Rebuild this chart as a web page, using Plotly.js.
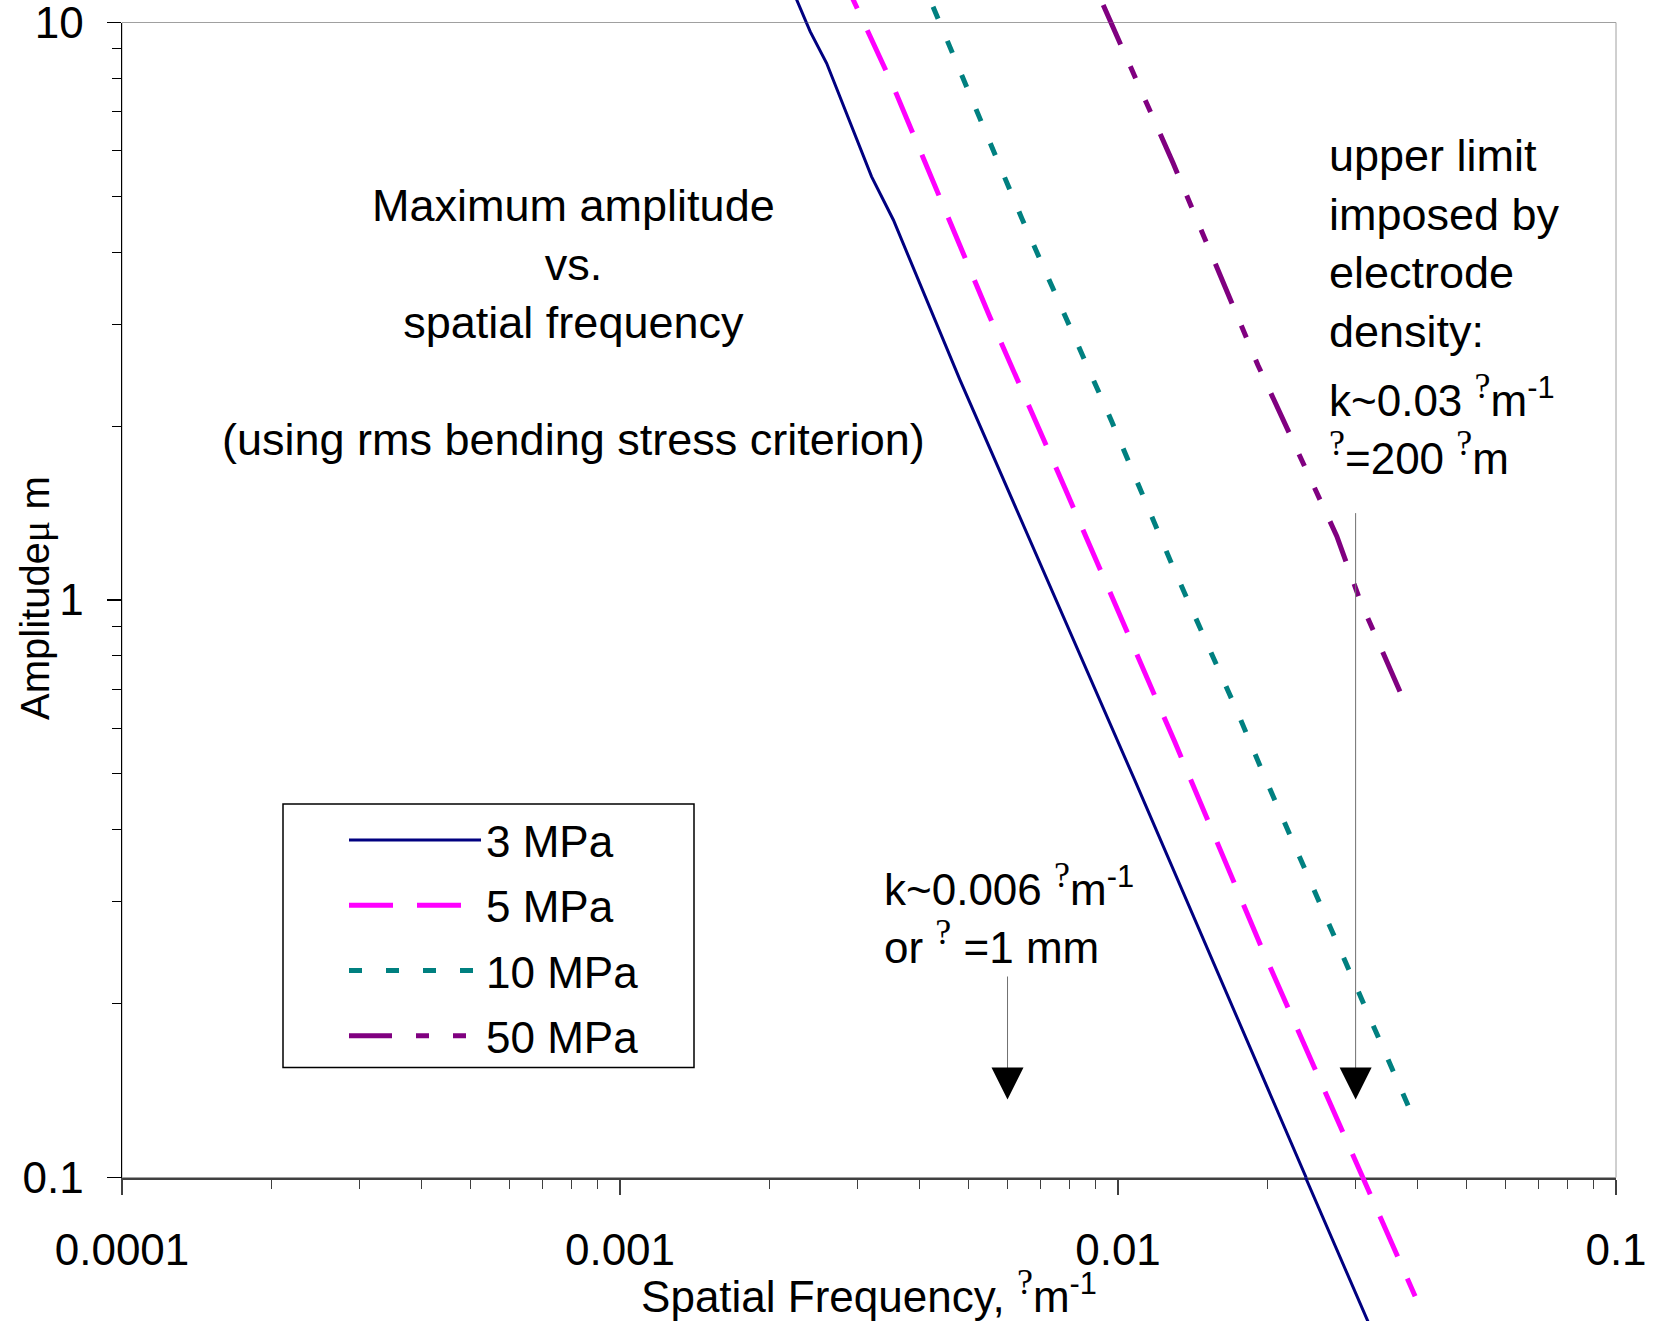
<!DOCTYPE html>
<html>
<head>
<meta charset="utf-8">
<script src="https://cdn.plot.ly/plotly-3.0.1.min.js"></script>
<style>html,body{margin:0;padding:0;background:#fff;}</style>
</head>
<body>
<div id="chart" style="width:1654px;height:1321px;"></div>
<script>
// ---------------- data ----------------
const seriesNames = ['3 MPa', '5 MPa', '10 MPa', '50 MPa'];

// spatial frequency k (per micron) and maximum amplitude (micron)
const k3MPa   = [0.00220, 0.00241, 0.00260, 0.00320, 0.00354, 0.00482, 0.0108, 0.0238, 0.0400];
const amp3MPa = [11.6, 9.64, 8.50, 5.41, 4.55, 2.40, 0.488, 0.100, 0.0356];

const k5MPa   = [0.00275, 0.00325, 0.00354, 0.00553, 0.00642, 0.00783, 0.0130, 0.0195, 0.0395];
const amp5MPa = [12.4, 9.08, 7.74, 3.09, 2.31, 1.56, 0.568, 0.248, 0.0623];

const k10MPa   = [0.00398, 0.00641, 0.00753, 0.00971, 0.0129, 0.0173, 0.0197, 0.0395];
const amp10MPa = [12.2, 4.58, 3.35, 2.04, 1.14, 0.645, 0.494, 0.125];

const k50MPa   = [0.00934, 0.0129, 0.0191, 0.0275, 0.0306, 0.0377];
const amp50MPa = [10.72, 5.71, 2.55, 1.29, 1.00, 0.663];

const xTickVals = [0.0001, 0.001, 0.01, 0.1];
const xTickText = ['0.0001', '0.001', '0.01', '0.1'];
const yTickVals = [0.1, 1, 10];
const yTickText = ['0.1', '1', '10'];

// marked wavenumbers (arrows)
const kMarkLow = 0.006;
const kMarkHigh = 0.03;

// ---------------- layout geometry ----------------
const W = 1654, H = 1321;
const plotLeft = 122, plotRight = 1616, plotTop = 22.5, plotBottom = 1177.5;
const decY = (plotBottom - plotTop) / 2;
const fx = p => (p - plotLeft) / (plotRight - plotLeft);   // pixel column -> paper x
const fy = p => 1 - p / H;                                 // pixel row -> paper y (t=b=0)
const lA = py => 1 - (py - plotTop) / decY;                // pixel row -> log10(amplitude)
const L = Math.log10;

function minorVals(d0, d1) {
  const v = [];
  for (let d = d0; d < d1; d++) for (let m = 2; m <= 9; m++) v.push(m * Math.pow(10, d));
  return v;
}

const FONT = 'Liberation Sans, Arial, sans-serif';
const Q = '<sup><span style="font-family:Liberation Serif;font-size:36px">?</span></sup>';

const styles = [
  {color: '#000080', width: 3, dash: 'solid'},
  {color: '#FF00FF', width: 5, dash: '44px,24px'},
  {color: '#008080', width: 5, dash: '13px,24px'},
  {color: '#800080', width: 5, dash: '43px,24px,13px,24px,13px,24px'}
];
const xs = [k3MPa, k5MPa, k10MPa, k50MPa];
const ys = [amp3MPa, amp5MPa, amp10MPa, amp50MPa];

const traces = [];
seriesNames.forEach((name, i) => {
  ['y', 'y2', 'y3'].forEach((ya, j) => {
    traces.push({
      type: 'scatter', mode: 'lines',
      x: xs[i], y: ys[i], xaxis: 'x', yaxis: ya,
      name: name, legendgroup: 'g' + i, showlegend: j === 0,
      line: {color: styles[i].color, width: styles[i].width, dash: styles[i].dash},
      hoverinfo: 'skip'
    });
  });
});

const layout = {
  width: W, height: H,
  margin: {l: plotLeft, r: W - plotRight, t: 0, b: 0, pad: 0},
  paper_bgcolor: 'white', plot_bgcolor: 'rgba(0,0,0,0)',
  font: {family: FONT, size: 44, color: 'black'},
  showlegend: true,
  hovermode: false,
  legend: {
    x: fx(344), y: fy(805), xanchor: 'left', yanchor: 'top',
    font: {family: FONT, size: 44, color: 'black'},
    itemwidth: 132, tracegroupgap: 5,
    bgcolor: 'rgba(0,0,0,0)', borderwidth: 0
  },
  xaxis: {
    type: 'log', range: [-4, -1], anchor: 'y',
    tickmode: 'array', tickvals: xTickVals, ticktext: xTickText,
    ticks: 'outside', ticklen: 15, tickwidth: 1.5, tickcolor: '#404040',
    ticklabelstandoff: 18, ticklabeloverflow: 'allow',
    tickfont: {family: FONT, size: 44, color: 'black'},
    minor: {tickvals: minorVals(-4, -1), ticks: 'outside', ticklen: 9, tickwidth: 1, tickcolor: '#404040', showgrid: false},
    showline: true, linecolor: '#404040', linewidth: 2,
    showgrid: false, zeroline: false,
    title: {text: 'Spatial Frequency, ' + Q + 'm<sup>-1</sup>', font: {family: FONT, size: 44, color: 'black'}, standoff: 0}
  },
  yaxis: {
    type: 'log', range: [-1, 1], anchor: 'x',
    domain: [fy(plotBottom), fy(plotTop)],
    tickmode: 'array', tickvals: yTickVals, ticktext: yTickText,
    ticks: 'outside', ticklen: 14, tickwidth: 1.5, tickcolor: 'black',
    ticklabelstandoff: 14, ticklabeloverflow: 'allow',
    tickfont: {family: FONT, size: 44, color: 'black'},
    minor: {tickvals: minorVals(-1, 1), ticks: 'outside', ticklen: 9, tickwidth: 1, tickcolor: 'black', showgrid: false},
    showline: true, linecolor: 'black', linewidth: 1.5,
    showgrid: false, zeroline: false
  },
  // invisible continuations so the curves run past the frame as in the reference
  yaxis2: {type: 'log', range: [1, 1 + plotTop / decY], domain: [fy(plotTop), 1], anchor: 'x', visible: false},
  yaxis3: {type: 'log', range: [-1 - (H - plotBottom) / decY, -1], domain: [0, fy(plotBottom)], anchor: 'x', visible: false},
  shapes: [
    {type: 'rect', xref: 'x domain', yref: 'y domain', x0: 0, x1: 1, y0: 0, y1: 1,
     line: {color: '#a0a0a0', width: 1}, layer: 'below'},
    {type: 'rect', xref: 'paper', yref: 'paper', x0: fx(283), x1: fx(694), y0: fy(1067.5), y1: fy(804),
     line: {color: 'black', width: 1.5}, fillcolor: 'white', layer: 'below'}
  ],
  annotations: [
    {xref: 'paper', yref: 'paper', x: fx(35), y: fy(598), textangle: -90, showarrow: false,
     xanchor: 'center', yanchor: 'middle',
     text: 'Amplitude<span style="font-family:Liberation Serif">μ</span> m', font: {size: 40}},
    {xref: 'paper', yref: 'paper', x: fx(573), y: fy(322), showarrow: false, xanchor: 'center', yanchor: 'middle', align: 'center',
     text: 'Maximum amplitude<br>vs.<br>spatial frequency<br><br>(using rms bending stress criterion)', font: {size: 45}},
    {xref: 'paper', yref: 'paper', x: fx(1327), y: fy(243.5), showarrow: false, xanchor: 'left', yanchor: 'middle', align: 'left',
     text: 'upper limit<br>imposed by<br>electrode<br>density:', font: {size: 45}},
    {xref: 'paper', yref: 'paper', x: fx(1327), y: fy(424), showarrow: false, xanchor: 'left', yanchor: 'middle', align: 'left',
     text: 'k~0.03 ' + Q + 'm<sup>-1</sup><br>' + Q + '=200 ' + Q + 'm', font: {size: 44}},
    {xref: 'paper', yref: 'paper', x: fx(882), y: fy(914), showarrow: false, xanchor: 'left', yanchor: 'middle', align: 'left',
     text: 'k~0.006 ' + Q + 'm<sup>-1</sup><br>or ' + Q + ' =1 mm', font: {size: 44}},
    // arrow shafts
    {xref: 'x', yref: 'y', axref: 'x', ayref: 'y', x: L(kMarkLow), y: lA(1095), ax: L(kMarkLow), ay: lA(975),
     text: '', showarrow: true, arrowhead: 0, arrowwidth: 1, arrowcolor: '#707070'},
    {xref: 'x', yref: 'y', axref: 'x', ayref: 'y', x: L(kMarkHigh), y: lA(1095), ax: L(kMarkHigh), ay: lA(511.6),
     text: '', showarrow: true, arrowhead: 0, arrowwidth: 1, arrowcolor: '#707070'},
    // arrow heads
    {xref: 'x', yref: 'y', axref: 'x', ayref: 'y', x: L(kMarkLow), y: lA(1099.4), ax: L(kMarkLow), ay: lA(1078),
     text: '', showarrow: true, arrowhead: 2, arrowsize: 6.4, arrowwidth: 1, arrowcolor: 'black'},
    {xref: 'x', yref: 'y', axref: 'x', ayref: 'y', x: L(kMarkHigh), y: lA(1099.4), ax: L(kMarkHigh), ay: lA(1078),
     text: '', showarrow: true, arrowhead: 2, arrowsize: 6.4, arrowwidth: 1, arrowcolor: 'black'}
  ]
};

Plotly.newPlot('chart', traces, layout, {staticPlot: true, displayModeBar: false});
</script>
</body>
</html>
